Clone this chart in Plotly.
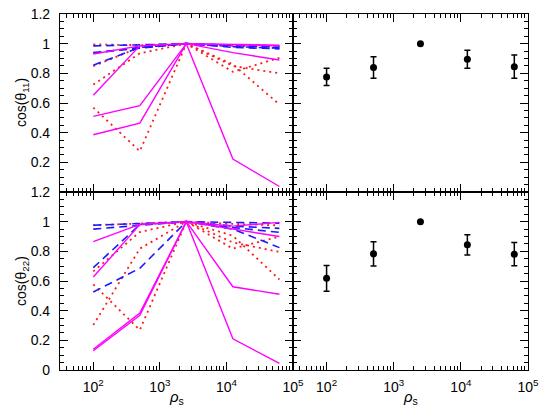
import plotly.graph_objects as go

rho = [100, 500, 2500, 12500, 62500]

# top-left panel: cos(theta_11) curves
top_solid = [
    [0.93, 0.985, 1.0, 0.995, 0.99],
    [0.652, 0.985, 1.0, 0.94, 0.89],
    [0.51, 0.582, 1.0, 0.99, 0.985],
    [0.386, 0.464, 1.0, 0.222, 0.037],
]
top_dotted = [
    [0.995, 0.99, 1.0, 0.985, 0.98],
    [0.848, 0.975, 1.0, 0.81, 0.905],
    [0.724, 0.935, 1.0, 0.85, 0.80],
    [0.569, 0.275, 1.0, 0.86, 0.59],
]
top_dashed = [
    [0.985, 0.99, 1.0, 0.99, 0.985],
    [0.935, 0.975, 1.0, 0.985, 0.975],
    [0.94, 0.97, 1.0, 0.975, 0.965],
    [0.855, 0.975, 1.0, 0.98, 0.97],
]

# bottom-left panel: cos(theta_22) curves
bot_solid = [
    [0.866, 0.982, 1.0, 0.97, 0.995],
    [0.627, 0.98, 1.0, 0.95, 0.90],
    [0.14, 0.384, 1.0, 0.561, 0.511],
    [0.13, 0.368, 1.0, 0.21, 0.045],
]
bot_dotted = [
    [0.976, 0.99, 1.0, 0.985, 0.975],
    [0.665, 0.93, 1.0, 0.86, 0.796],
    [0.303, 0.818, 1.0, 0.818, 0.90],
    [0.577, 0.27, 1.0, 0.905, 0.61],
]
bot_dashed = [
    [0.976, 0.99, 1.0, 0.995, 0.99],
    [0.95, 0.975, 1.0, 0.97, 0.955],
    [0.69, 0.98, 1.0, 0.96, 0.928],
    [0.526, 0.686, 1.0, 0.95, 0.825],
]

# right panels: means with errors
top_mean = [0.776, 0.839, 1.0, 0.895, 0.845]
top_err = [0.058, 0.072, 0.0, 0.061, 0.078]
bot_mean = [0.618, 0.783, 1.0, 0.844, 0.781]
bot_err = [0.087, 0.082, 0.0, 0.068, 0.079]

x_tickvals = [100, 1000, 10000, 100000]
x_ticktext = ["10<sup>2</sup>", "10<sup>3</sup>", "10<sup>4</sup>", "10<sup>5</sup>"]
x_minor = [d * 10 ** e for e in range(1, 5) for d in range(2, 10)]
y_top_vals = [0.2, 0.4, 0.6, 0.8, 1.0, 1.2]
y_top_text = ["0.2", "0.4", "0.6", "0.8", "1", "1.2"]
y_bot_vals = [0, 0.2, 0.4, 0.6, 0.8, 1.0, 1.2]
y_bot_text = ["0", "0.2", "0.4", "0.6", "0.8", "1", "1.2"]

MAG = "#ff00ff"
RED = "#ff1a1a"
BLUE = "#1a1aff"

fig = go.Figure()

def add_lines(sets, xa, ya):
    solid, dotted, dashed = sets
    for ys in dotted:
        fig.add_trace(go.Scatter(x=rho, y=ys, mode="lines", xaxis=xa, yaxis=ya,
                                 line=dict(color=RED, width=1.8, dash="2px,4px"), showlegend=False))
    for ys in dashed:
        fig.add_trace(go.Scatter(x=rho, y=ys, mode="lines", xaxis=xa, yaxis=ya,
                                 line=dict(color=BLUE, width=1.6, dash="8px,5px"), showlegend=False))
    for ys in solid:
        fig.add_trace(go.Scatter(x=rho, y=ys, mode="lines", xaxis=xa, yaxis=ya,
                                 line=dict(color=MAG, width=1.4), showlegend=False))

add_lines((top_solid, top_dotted, top_dashed), "x", "y")
add_lines((bot_solid, bot_dotted, bot_dashed), "x3", "y3")

def add_pts(mean, err, xa, ya):
    fig.add_trace(go.Scatter(x=rho, y=mean, mode="markers", xaxis=xa, yaxis=ya,
                             marker=dict(color="black", size=7),
                             error_y=dict(type="data", array=err, color="black", thickness=1.5, width=3),
                             showlegend=False))

add_pts(top_mean, top_err, "x2", "y2")
add_pts(bot_mean, bot_err, "x4", "y4")

xl = [0, 0.4979]
xr = [0.4979, 1]
yt = [0.5, 1]
yb = [0, 0.5]

font = dict(family="Liberation Sans, Arial, sans-serif", size=14, color="black")

def xaxis(domain, anchor, show):
    return dict(domain=domain, anchor=anchor, type="log", range=[1.5, 5],
                tickmode="array", tickvals=x_tickvals, ticktext=x_ticktext,
                showticklabels=show, ticks="inside", ticklen=8, tickwidth=1, tickcolor="black",
                minor=dict(tickmode="array", tickvals=x_minor, ticks="inside", ticklen=4,
                           tickcolor="black", tickwidth=1),
                showline=True, linecolor="black", linewidth=1.2, mirror="ticks",
                showgrid=False, zeroline=False, tickfont=font, ticklabelstandoff=4)

def yaxis(domain, anchor, show, vals, text):
    return dict(domain=domain, anchor=anchor, range=[0, 1.2],
                tickmode="array", tickvals=vals, ticktext=text,
                showticklabels=show, ticks="inside", ticklen=8, tickwidth=1, tickcolor="black",
                minor=dict(dtick=0.05, tick0=0, ticks="inside", ticklen=4, tickcolor="black", tickwidth=1),
                showline=True, linecolor="black", linewidth=1.2, mirror="ticks",
                showgrid=False, zeroline=False, tickfont=font, ticklabelstandoff=6)

fig.update_layout(
    width=545, height=411,
    margin=dict(l=60, r=13, t=6, b=41),
    plot_bgcolor="white", paper_bgcolor="white",
    font=font,
    xaxis=xaxis(xl, "y", False),
    yaxis=yaxis(yt, "x", True, y_top_vals, y_top_text),
    xaxis2=xaxis(xr, "y2", False),
    yaxis2=yaxis(yt, "x2", False, y_top_vals, y_top_text),
    xaxis3=xaxis(xl, "y3", True),
    yaxis3=yaxis(yb, "x3", True, y_bot_vals, y_bot_text),
    xaxis4=xaxis(xr, "y4", True),
    yaxis4=yaxis(yb, "x4", False, y_bot_vals, y_bot_text),
    annotations=[
        dict(text="cos(θ<sub>11</sub>)", xref="paper", yref="paper", x=0, y=0.75,
             xanchor="center", yanchor="middle", xshift=-38, textangle=-90, showarrow=False,
             font=dict(family="Liberation Sans, Arial, sans-serif", size=14)),
        dict(text="cos(θ<sub>22</sub>)", xref="paper", yref="paper", x=0, y=0.25,
             xanchor="center", yanchor="middle", xshift=-38, textangle=-90, showarrow=False,
             font=dict(family="Liberation Sans, Arial, sans-serif", size=14)),
        dict(text="<i>ρ</i><sub>s</sub>", xref="paper", yref="paper", x=sum(xl) / 2, y=0,
             xanchor="center", yanchor="middle", yshift=-27, showarrow=False,
             font=dict(family="Liberation Sans, Arial, sans-serif", size=15)),
        dict(text="<i>ρ</i><sub>s</sub>", xref="paper", yref="paper", x=sum(xr) / 2, y=0,
             xanchor="center", yanchor="middle", yshift=-27, showarrow=False,
             font=dict(family="Liberation Sans, Arial, sans-serif", size=15)),
    ],
)

fig.write_html("out.html", config={"displayModeBar": False},
               post_script="document.body.style.margin='0';document.body.style.overflow='hidden';")
